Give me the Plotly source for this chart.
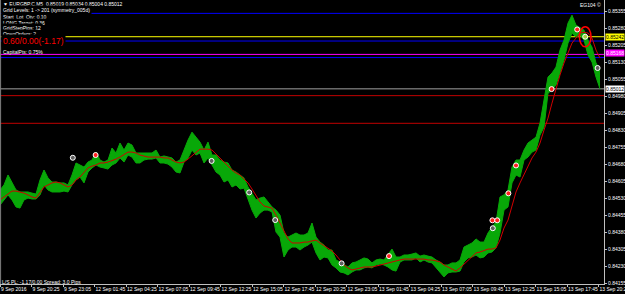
import plotly.graph_objects as go

# ---------------- data (EURGBP M5) ----------------
high = [
    0.84566, 0.84588, 0.84632, 0.84597, 0.84566, 0.84557, 0.84557, 0.84557, 0.84552, 0.84548,
    0.84610, 0.84654, 0.84619, 0.84601, 0.84601, 0.84597, 0.84597, 0.84588, 0.84632, 0.84685,
    0.84676, 0.84667, 0.84689, 0.84698, 0.84733, 0.84698, 0.84689, 0.84698, 0.84751, 0.84729,
    0.84773, 0.84742, 0.84773, 0.84764, 0.84729, 0.84729, 0.84729, 0.84729, 0.84729, 0.84742,
    0.84711, 0.84716, 0.84711, 0.84707, 0.84689, 0.84698, 0.84742, 0.84786, 0.84821, 0.84799,
    0.84777, 0.84742, 0.84777, 0.84720, 0.84720, 0.84698, 0.84689, 0.84685, 0.84654, 0.84645,
    0.84632, 0.84619, 0.84579, 0.84552, 0.84522, 0.84530, 0.84535, 0.84513, 0.84491, 0.84477,
    0.84455, 0.84376, 0.84358, 0.84367, 0.84376, 0.84367, 0.84367, 0.84376, 0.84420, 0.84358,
    0.84336, 0.84323, 0.84301, 0.84301, 0.84257, 0.84248, 0.84235, 0.84226, 0.84244, 0.84248,
    0.84257, 0.84266, 0.84261, 0.84244, 0.84257, 0.84261, 0.84257, 0.84279, 0.84305, 0.84270,
    0.84270, 0.84279, 0.84279, 0.84283, 0.84288, 0.84274, 0.84279, 0.84274, 0.84270, 0.84257,
    0.84248, 0.84235, 0.84235, 0.84244, 0.84244, 0.84257, 0.84314, 0.84323, 0.84332, 0.84350,
    0.84336, 0.84336, 0.84376, 0.84402, 0.84424, 0.84535, 0.84544, 0.84566, 0.84667, 0.84698,
    0.84698, 0.84742, 0.84773, 0.84786, 0.84799, 0.84861, 0.84962, 0.85064, 0.85082, 0.85108,
    0.85183, 0.85227, 0.85302, 0.85337, 0.85293, 0.85280, 0.85271, 0.85227, 0.85196, 0.85126,
    0.85095,
]
low = [
    0.84499, 0.84522, 0.84544, 0.84522, 0.84491, 0.84486, 0.84522, 0.84530, 0.84526, 0.84526,
    0.84544, 0.84588, 0.84566, 0.84557, 0.84557, 0.84557, 0.84561, 0.84557, 0.84588, 0.84610,
    0.84623, 0.84597, 0.84645, 0.84663, 0.84676, 0.84667, 0.84663, 0.84658, 0.84676, 0.84685,
    0.84707, 0.84689, 0.84720, 0.84711, 0.84685, 0.84685, 0.84698, 0.84702, 0.84702, 0.84707,
    0.84685, 0.84685, 0.84680, 0.84667, 0.84645, 0.84641, 0.84689, 0.84707, 0.84742, 0.84720,
    0.84729, 0.84685, 0.84707, 0.84676, 0.84645, 0.84632, 0.84601, 0.84610, 0.84579, 0.84588,
    0.84570, 0.84574, 0.84522, 0.84477, 0.84442, 0.84464, 0.84477, 0.84477, 0.84469, 0.84380,
    0.84358, 0.84270, 0.84301, 0.84314, 0.84314, 0.84301, 0.84314, 0.84323, 0.84336, 0.84288,
    0.84257, 0.84270, 0.84266, 0.84235, 0.84222, 0.84204, 0.84200, 0.84191, 0.84204, 0.84213,
    0.84213, 0.84222, 0.84226, 0.84222, 0.84235, 0.84239, 0.84235, 0.84226, 0.84213, 0.84208,
    0.84248, 0.84257, 0.84257, 0.84257, 0.84266, 0.84248, 0.84257, 0.84248, 0.84244, 0.84222,
    0.84200, 0.84182, 0.84200, 0.84204, 0.84204, 0.84208, 0.84248, 0.84266, 0.84270, 0.84279,
    0.84266, 0.84270, 0.84288, 0.84292, 0.84310, 0.84376, 0.84477, 0.84491, 0.84597, 0.84632,
    0.84623, 0.84698, 0.84711, 0.84733, 0.84742, 0.84808, 0.84843, 0.84993, 0.85007, 0.85029,
    0.85082, 0.85139, 0.85214, 0.85258, 0.85240, 0.85249, 0.85227, 0.85161, 0.85130, 0.85064,
    0.85012,
]
ma = [
    0.84522, 0.84535, 0.84552, 0.84561, 0.84561, 0.84557, 0.84552, 0.84544, 0.84535, 0.84530,
    0.84552, 0.84579, 0.84588, 0.84597, 0.84601, 0.84597, 0.84588, 0.84579, 0.84588, 0.84610,
    0.84623, 0.84641, 0.84663, 0.84671, 0.84676, 0.84685, 0.84685, 0.84689, 0.84694, 0.84702,
    0.84711, 0.84724, 0.84733, 0.84733, 0.84729, 0.84720, 0.84716, 0.84711, 0.84711, 0.84711,
    0.84711, 0.84707, 0.84707, 0.84698, 0.84689, 0.84685, 0.84689, 0.84702, 0.84716, 0.84733,
    0.84746, 0.84746, 0.84746, 0.84742, 0.84724, 0.84707, 0.84689, 0.84671, 0.84654, 0.84641,
    0.84632, 0.84614, 0.84597, 0.84570, 0.84544, 0.84513, 0.84495, 0.84491, 0.84486, 0.84455,
    0.84420, 0.84380, 0.84350, 0.84332, 0.84332, 0.84332, 0.84336, 0.84336, 0.84341, 0.84345,
    0.84332, 0.84319, 0.84310, 0.84297, 0.84279, 0.84257, 0.84235, 0.84222, 0.84213, 0.84217,
    0.84222, 0.84226, 0.84226, 0.84226, 0.84230, 0.84235, 0.84239, 0.84244, 0.84248, 0.84253,
    0.84257, 0.84261, 0.84261, 0.84261, 0.84261, 0.84261, 0.84261, 0.84257, 0.84257, 0.84253,
    0.84248, 0.84235, 0.84226, 0.84217, 0.84208, 0.84222, 0.84239, 0.84257, 0.84270, 0.84288,
    0.84292, 0.84297, 0.84305, 0.84305, 0.84310, 0.84345, 0.84398, 0.84433, 0.84491, 0.84557,
    0.84597, 0.84632, 0.84667, 0.84707, 0.84733, 0.84773, 0.84830, 0.84883, 0.84949, 0.85015,
    0.85073, 0.85126, 0.85174, 0.85214, 0.85236, 0.85258, 0.85262, 0.85258, 0.85236, 0.85183,
    0.85148,
]
assert len(high) == len(low) == len(ma)
bars = list(range(len(high)))

# order markers (bar position, price)
closed_bar = [18.2, 52.9, 62.3, 68.8, 85.4, 123.2, 149.4]
closed_price = [0.84708, 0.84694, 0.84555, 0.84433, 0.84242, 0.84397, 0.85104]
entry_bar = [23.9, 97.25, 123.1, 124.3, 127.1, 129.0, 137.9, 144.3]
entry_price = [0.84720, 0.84274, 0.84432, 0.84432, 0.84551, 0.84674, 0.85011, 0.85274]
open_bar = [146.3]
open_price = [0.85242]

# horizontal price levels
level_prices = [0.85345, 0.85242, 0.85223, 0.85164, 0.85150, 0.85012, 0.84982, 0.84860]
level_colors = ["#0000ff", "#ffff00", "#0000ff", "#ff00ff", "#0000ff", "#a0a0a0", "#c00000", "#c00000"]

# axis labels
time_labels = ["9 Sep 2016", "9 Sep 20:25", "9 Sep 23:05", "12 Sep 01:45", "12 Sep 04:25",
               "12 Sep 07:05", "12 Sep 09:45", "12 Sep 12:25", "12 Sep 15:05", "12 Sep 17:45",
               "12 Sep 20:25", "12 Sep 23:05", "13 Sep 01:45", "13 Sep 04:25", "13 Sep 07:05",
               "13 Sep 09:45", "13 Sep 12:25", "13 Sep 15:05", "13 Sep 17:45", "13 Sep 20:25"]
bars_per_label = 7.875
price_ticks = [0.85355, 0.85280, 0.85205, 0.85130, 0.85055, 0.84980, 0.84905, 0.84830,
               0.84755, 0.84680, 0.84605, 0.84530, 0.84455, 0.84380, 0.84305, 0.84230, 0.84155]

boxed_prices = [0.85242, 0.85168, 0.85012]
boxed_bg = ["#ffff00", "#ff00ff", "#ffffff"]
boxed_fg = ["#000000", "#ffffff", "#000000"]

info_lines = ["\u25bc EURGBP.C,M5  0.85019 0.85034 0.85004 0.85012",
              "Grid Levels: 1 -> 201 (symmetry_005d)",
              "Start_Lot_Qty: 0.10",
              "LONG Target: 0.36",
              "GridStepPips: 12",
              "OpenOrders: 2"]
pl_text = "0.60/0.00(-1.17)"
capital_text = "CapitalPts: 0.75%"
bottom_text = "L/S PL: -1.17/0.00 Spread: 3.0 Pips"

# ---------------- figure ----------------
FONT = "Liberation Sans"
W, H = 625, 294
ML, MR, MT, MB = 0, 21, 0, 10
PW, PH = W - ML - MR, H - MT - MB
GREEN = "#08a808"

fig = go.Figure()
# price range band: low envelope, then high envelope filled down to it
fig.add_trace(go.Scatter(x=bars, y=low, mode="lines", line=dict(color=GREEN, width=1),
                         hoverinfo="skip"))
fig.add_trace(go.Scatter(x=bars, y=high, mode="lines", line=dict(color=GREEN, width=1),
                         fill="tonexty", fillcolor=GREEN, hoverinfo="skip"))
fig.add_trace(go.Scatter(x=bars, y=ma, mode="lines",
                         line=dict(color="#d00000", width=1), hoverinfo="skip"))
fig.add_trace(go.Scatter(x=closed_bar, y=closed_price, mode="markers",
                         marker=dict(symbol="circle", size=5, color="#606060",
                                     line=dict(color="#ffffff", width=1))))
fig.add_trace(go.Scatter(x=entry_bar, y=entry_price, mode="markers",
                         marker=dict(symbol="circle", size=5, color="#ff2020",
                                     line=dict(color="#ffffff", width=1))))
fig.add_trace(go.Scatter(x=open_bar, y=open_price, mode="markers",
                         marker=dict(symbol="circle", size=5, color="#a0d040",
                                     line=dict(color="#ffffff", width=1))))

shapes = []
for p, c in zip(level_prices, level_colors):
    shapes.append(dict(type="line", xref="paper", x0=0, x1=1, yref="y", y0=p, y1=p,
                       line=dict(color=c, width=1), layer="below"))
# left window border
shapes.append(dict(type="line", xref="paper", x0=0.001, x1=0.001, yref="paper", y0=0, y1=1,
                   line=dict(color="#808080", width=1)))
# ellipse around the open order
ew, eh = 1.45, 0.00044
for b, p in zip(open_bar, open_price):
    shapes.append(dict(type="circle", xref="x", yref="y", x0=b - ew, x1=b + ew,
                       y0=p - eh, y1=p + eh, line=dict(color="#ff0000", width=1.5)))

ann = []


def txt(text, xpx, ypx, size, color, bg=None, anchor="left"):
    ann.append(dict(text=text, xref="paper", yref="paper", x=xpx / PW, y=1 - ypx / PH,
                    xanchor=anchor, yanchor="middle", showarrow=False,
                    font=dict(family=FONT, size=size, color=color),
                    bgcolor=bg, borderpad=1))


info_y = [4, 10.3, 16.7, 22.7, 28.3, 33.7]
for t, yy in zip(info_lines, info_y):
    txt(t, 1, yy, 5, "#ffffff", bg="#000000")
txt(pl_text, 1, 41, 8.5, "#ff0000", bg="#000000")
txt(capital_text, 1, 51.5, 5, "#ffffff")
txt(bottom_text, 0, 281.5, 5, "#ffffff")
txt("EG104 \u00a9", 603, 5, 5, "#ffffff", anchor="right")

for p, bg, fg in zip(boxed_prices, boxed_bg, boxed_fg):
    ann.append(dict(text=f"{p:.5f}", xref="paper", x=1, xanchor="left", xshift=1,
                    yref="y", y=p, yanchor="middle", showarrow=False,
                    font=dict(family=FONT, size=5, color=fg), bgcolor=bg, borderpad=0))

fig.update_layout(
    width=W, height=H, margin=dict(l=ML, r=MR, t=MT, b=MB, autoexpand=False),
    paper_bgcolor="#000000", plot_bgcolor="#000000", showlegend=False,
    shapes=shapes, annotations=ann,
    font=dict(family=FONT, size=5, color="#ffffff"),
    xaxis=dict(range=[0, PW / 4], tickvals=[k * bars_per_label for k in range(len(time_labels))],
               ticktext=time_labels, ticklabelposition="outside right", tickangle=0,
               ticklabeloverflow="allow",
               ticks="outside", ticklen=2, tickcolor="#c0c0c0",
               showline=True, linecolor="#c0c0c0", linewidth=1,
               showgrid=False, zeroline=False, automargin=False,
               tickfont=dict(family=FONT, size=5, color="#ffffff")),
    yaxis=dict(range=[0.84151, 0.85404], side="right", tickvals=price_ticks,
               tickformat=".5f", ticks="outside", ticklen=2, tickcolor="#c0c0c0",
               showline=True, linecolor="#c0c0c0", linewidth=1,
               showgrid=False, zeroline=False, automargin=False,
               tickfont=dict(family=FONT, size=5, color="#ffffff")),
)

fig.write_html("out.html")
